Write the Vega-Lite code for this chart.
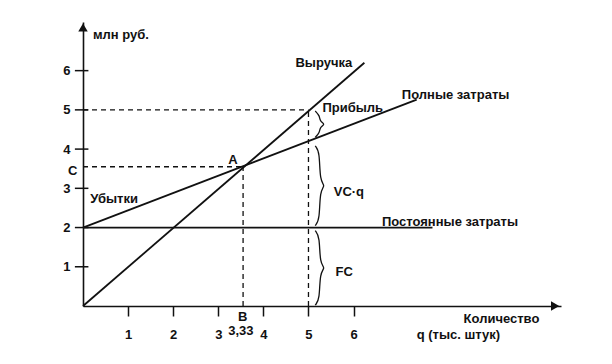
{
  "$schema": "https://vega.github.io/schema/vega-lite/v6.json",
  "width": 478,
  "height": 284,
  "autosize": {"type": "none"},
  "padding": {"left": 83, "top": 22, "right": 51, "bottom": 58},
  "background": "white",
  "config": {
    "view": {"stroke": null},
    "axis": {"grid": false, "title": null, "domainColor": "#111", "domainWidth": 1.6, "tickColor": "#111", "tickWidth": 1.5, "labelFont": "Liberation Sans", "labelFontSize": 13, "labelFontWeight": "bold", "labelColor": "#111"},
    "axisX": {"tickSize": 10, "labelPadding": 12},
    "axisY": {"ticks": false, "labelPadding": 13},
    "text": {"font": "Liberation Sans", "fontSize": 13, "fontWeight": "bold", "color": "#111"}
  },
  "encoding": {
    "x": {"field": "x", "type": "quantitative", "scale": {"domain": [0, 10.6], "nice": false, "zero": false},
          "axis": {"values": [1, 2, 3, 4, 5, 6]}},
    "y": {"field": "y", "type": "quantitative", "scale": {"domain": [0, 7.24], "nice": false, "zero": false},
          "axis": {"values": [1, 2, 3, 4, 5, 6]}}
  },
  "layer": [
    {
      "data": {"values": [
        {"x": -0.18, "x2": 0.12, "y": 1},
        {"x": -0.18, "x2": 0.12, "y": 2},
        {"x": -0.18, "x2": 0.12, "y": 3},
        {"x": -0.18, "x2": 0.12, "y": 4},
        {"x": -0.18, "x2": 0.12, "y": 5},
        {"x": -0.18, "x2": 0.12, "y": 6}
      ]},
      "mark": {"type": "rule", "color": "#111", "strokeWidth": 1.5},
      "encoding": {
        "x2": {"field": "x2"}
      }
    },
    {
      "data": {"values": [
        {"series": "Выручка", "x": 0, "y": 0},
        {"series": "Выручка", "x": 6.24, "y": 6.2},
        {"series": "Полные затраты", "x": 0, "y": 2},
        {"series": "Полные затраты", "x": 7.4, "y": 5.26},
        {"series": "Постоянные затраты", "x": 0, "y": 2},
        {"series": "Постоянные затраты", "x": 7.75, "y": 2}
      ]},
      "mark": {"type": "line", "color": "#111", "strokeWidth": 1.8},
      "encoding": {
        "detail": {"field": "series"}
      }
    },
    {
      "data": {"values": [
        {"series": "C", "x": 0, "y": 3.55},
        {"series": "C", "x": 3.55, "y": 3.55},
        {"series": "B", "x": 3.55, "y": 0},
        {"series": "B", "x": 3.55, "y": 3.55},
        {"series": "h5", "x": 0, "y": 5},
        {"series": "h5", "x": 5, "y": 5},
        {"series": "v5", "x": 5, "y": 0},
        {"series": "v5", "x": 5, "y": 5}
      ]},
      "mark": {"type": "line", "color": "#111", "strokeWidth": 1.3, "strokeDash": [5, 4]},
      "encoding": {
        "detail": {"field": "series"}
      }
    },
    {
      "data": {"values": [
        {"brace": "profit", "i": 0, "x": 5.15, "y": 4.3},
        {"brace": "profit", "i": 1, "x": 5.25, "y": 4.42},
        {"brace": "profit", "i": 2, "x": 5.25, "y": 4.56},
        {"brace": "profit", "i": 3, "x": 5.38, "y": 4.635},
        {"brace": "profit", "i": 4, "x": 5.25, "y": 4.71},
        {"brace": "profit", "i": 5, "x": 5.25, "y": 4.85},
        {"brace": "profit", "i": 6, "x": 5.15, "y": 4.97},
        {"brace": "vc", "i": 0, "x": 5.15, "y": 2.05},
        {"brace": "vc", "i": 1, "x": 5.25, "y": 2.2},
        {"brace": "vc", "i": 2, "x": 5.25, "y": 2.95},
        {"brace": "vc", "i": 3, "x": 5.38, "y": 3.065},
        {"brace": "vc", "i": 4, "x": 5.25, "y": 3.18},
        {"brace": "vc", "i": 5, "x": 5.25, "y": 3.93},
        {"brace": "vc", "i": 6, "x": 5.15, "y": 4.08},
        {"brace": "fc", "i": 0, "x": 5.15, "y": 0.02},
        {"brace": "fc", "i": 1, "x": 5.25, "y": 0.17},
        {"brace": "fc", "i": 2, "x": 5.25, "y": 0.86},
        {"brace": "fc", "i": 3, "x": 5.38, "y": 0.97},
        {"brace": "fc", "i": 4, "x": 5.25, "y": 1.08},
        {"brace": "fc", "i": 5, "x": 5.25, "y": 1.77},
        {"brace": "fc", "i": 6, "x": 5.15, "y": 1.92}
      ]},
      "mark": {"type": "line", "color": "#111", "strokeWidth": 1.3, "interpolate": "basis"},
      "encoding": {
        "detail": {"field": "brace"},
        "order": {"field": "i", "type": "quantitative"}
      }
    },
    {
      "data": {"values": [
        {"shape": "triangle-up", "x": 0, "y": 7.1},
        {"shape": "triangle-right", "x": 10.47, "y": 0}
      ]},
      "mark": {"type": "point", "filled": true, "color": "#111", "size": 90, "opacity": 1},
      "encoding": {
        "shape": {"field": "shape", "type": "nominal", "scale": null}
      }
    },
    {
      "data": {"values": [
        {"label": "млн руб.", "x": 0.22, "y": 6.91},
        {"label": "Выручка", "x": 4.71, "y": 6.2},
        {"label": "Полные затраты", "x": 7.07, "y": 5.38},
        {"label": "Прибыль", "x": 5.31, "y": 5.04},
        {"label": "VC·q", "x": 5.56, "y": 2.91},
        {"label": "Постоянные затраты", "x": 6.63, "y": 2.14},
        {"label": "FC", "x": 5.6, "y": 0.87},
        {"label": "Убытки", "x": 0.16, "y": 2.73},
        {"label": "A", "x": 3.22, "y": 3.72},
        {"label": "C", "x": -0.33, "y": 3.44},
        {"label": "B", "x": 3.44, "y": -0.28},
        {"label": "3,33", "x": 3.22, "y": -0.64},
        {"label": "Количество", "x": 8.44, "y": -0.32},
        {"label": "q (тыс. штук)", "x": 7.4, "y": -0.74}
      ]},
      "mark": {"type": "text", "align": "left", "baseline": "middle"},
      "encoding": {
        "text": {"field": "label"}
      }
    }
  ]
}
